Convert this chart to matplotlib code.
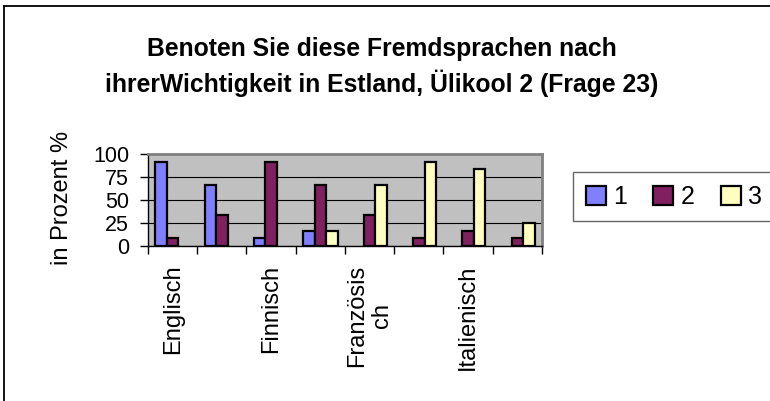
import numpy as np
import matplotlib.pyplot as plt
from matplotlib.lines import Line2D

plt.rcParams['font.family'] = ['Liberation Sans', 'DejaVu Sans']

# data (percent)
categories = ['Englisch', '', 'Finnisch', '', 'Französis\nch', '', 'Italienisch', '']
series_names = ['1', '2', '3']
note_1 = [91.7, 66.7, 8.3, 16.7, 0, 0, 0, 0]
note_2 = [8.3, 33.3, 91.7, 66.7, 33.3, 8.3, 16.7, 8.3]
note_3 = [0, 0, 0, 16.7, 66.7, 91.7, 83.3, 25]
yticks = [0, 25, 50, 75, 100]

colors = ['#8080FF', '#802060', '#FFFFC0']
W, H = 770, 401

fig = plt.figure(figsize=(W / 100, H / 100), dpi=100)
ax = fig.add_axes([148 / W, 1 - 246 / H, (542 - 148) / W, (246 - 154) / H])
ax.set_facecolor('#C0C0C0')

x = np.arange(len(categories)) + 0.5
w = 0.235
handles = []
for k, (vals, c, name) in enumerate(zip([note_1, note_2, note_3], colors, series_names)):
    vals = np.array(vals, dtype=float)
    keep = vals > 0
    ax.bar(x[keep] + (k - 1) * w, vals[keep], width=w, color=c,
           edgecolor='black', linewidth=1.6, zorder=3)
    handles.append(plt.Rectangle((0, 0), 1, 1, facecolor=c, edgecolor='black', linewidth=1.6))

ax.set_xlim(0, len(categories))
ax.set_ylim(0, 100)
ax.set_yticks(yticks)
ax.set_yticklabels([str(v) for v in yticks], fontsize=15.5)
ax.yaxis.grid(True, color='black', linewidth=0.8, zorder=1)
ax.set_axisbelow(True)

ax.set_xticks(np.arange(len(categories) + 1))
ax.set_xticklabels([])
ax.set_xticks(x, minor=True)
ax.set_xticklabels(categories, minor=True, rotation=90, fontsize=17,
                   va='top', ha='center', multialignment='center')
ax.tick_params(axis='x', which='major', direction='out', length=5.5, width=1)
ax.tick_params(axis='x', which='minor', length=0, pad=13.5)
ax.tick_params(axis='y', direction='out', length=5.5, width=1, pad=8)

for s in ['top', 'right']:
    ax.spines[s].set_color('#808080')
    ax.spines[s].set_linewidth(2)
for s in ['left', 'bottom']:
    ax.spines[s].set_color('black')
    ax.spines[s].set_linewidth(1)

fig.text(62 / W, 1 - 198 / H, 'in Prozent %', rotation=90, fontsize=17,
         ha='center', va='center')

fig.text(382 / W, 1 - 67 / H,
         'Benoten Sie diese Fremdsprachen nach\nihrerWichtigkeit in Estland, Ülikool 2 (Frage 23)',
         fontsize=17.8, fontweight='bold', ha='center', va='center', linespacing=1.35)

leg = fig.legend(handles, series_names, loc='center left',
                 bbox_to_anchor=(573 / W, 1 - 197 / H), ncol=3, fontsize=18,
                 frameon=True, fancybox=False, edgecolor='#404040',
                 handlelength=0.8, handleheight=0.8, handletextpad=0.3,
                 columnspacing=1.05, borderpad=0.5, borderaxespad=0)
leg.get_frame().set_linewidth(1)

# outer chart frame (only top and left edges are inside the picture)
fig.add_artist(Line2D([4 / W, 4 / W], [1 - 6 / H, 0], color='black', linewidth=1.3))
fig.add_artist(Line2D([4 / W, 1], [1 - 6 / H, 1 - 6 / H], color='black', linewidth=1.3))

fig.savefig('out.png', dpi=100)
